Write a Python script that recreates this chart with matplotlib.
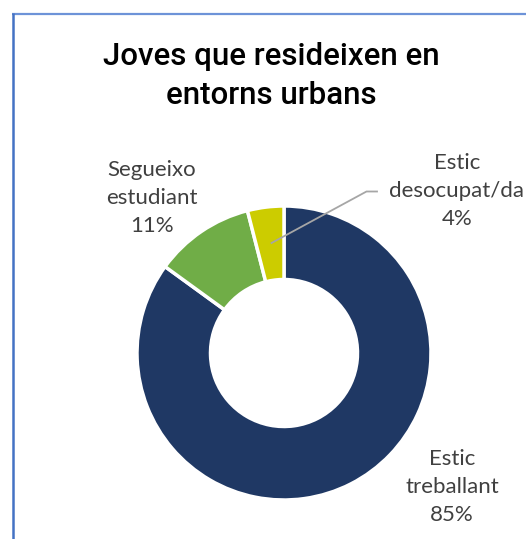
import matplotlib
matplotlib.use("Agg")
import matplotlib.pyplot as plt

title = "Joves que resideixen en\nentorns urbans"
categories = ["Estic\ntreballant", "Segueixo\nestudiant", "Estic\ndesocupat/da"]
values = [85, 11, 4]
colors = ["#1F3864", "#70AD47", "#CCCC00"]

W, H = 526, 539
fig = plt.figure(figsize=(W / 100, H / 100), dpi=100)
ax = fig.add_axes([0, 0, 1, 1])
ax.set_xlim(0, W)
ax.set_ylim(0, H)
ax.set_aspect("equal")
ax.axis("off")

def Y(y):
    return H - y

# border
ax.plot([12, W], [Y(13.5), Y(13.5)], color="#6D93D8", lw=1.6, solid_capstyle="butt")
ax.plot([12.5, 12.5], [Y(13), 0], color="#4472C4", lw=1.8, solid_capstyle="butt")

cx, cy, R = 284, 353, 147
ax.pie(values, colors=colors, startangle=90, counterclock=False,
       center=(cx, Y(cy)), radius=R,
       wedgeprops=dict(width=R * 0.5, edgecolor="white", linewidth=2.5))
ax.set_xlim(0, W)
ax.set_ylim(0, H)

ax.text(271, Y(76), title, ha="center", va="center", fontsize=22.5,
        fontweight="medium", family="Roboto", color="#000000", linespacing=1.42)

label_font = dict(family="Lato", fontsize=16, color="#404040", ha="center",
                  va="center", linespacing=1.48)
label_pos = [(452, 487), (152, 198), (457, 191)]
for cat, v, (x, y) in zip(categories, values, label_pos):
    ax.text(x, Y(y), f"{cat}\n{v}%", **label_font)

# leader line for small slice
ax.plot([271.5, 366.5, 377], [Y(243), Y(191.5), Y(191.5)], color="#A6A6A6", lw=1.3)

fig.savefig("out.png", dpi=100)
